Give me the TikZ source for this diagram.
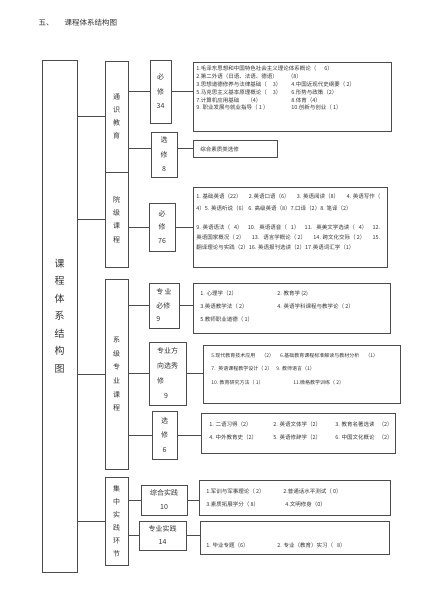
\documentclass[tikz,border=0pt]{standalone}
\usepackage{fontspec}
\setmainfont{Noto Sans CJK SC}

\begin{document}
\begin{tikzpicture}[x=1pt,y=-1pt,draw=black!70,line width=0.6pt]
      \tikzstyle{box}=[draw=black!70,rectangle,inner sep=0pt,text=black!80,align=center]
      \tikzstyle{group}=[box,minimum width=23pt,font=\fontsize{7}{13.3}\selectfont]
      \tikzstyle{course}=[box,font=\fontsize{7}{14.5}\selectfont]
      \tikzstyle{item}=[inner sep=0pt,anchor=north west,align=left,text=black!80,font=\fontsize{5.5}{7.8}\selectfont]

      \useasboundingbox (0,0) rectangle (425,601);

      % Title and root box
      \node[anchor=west,text=black!80,font=\fontsize{7.5}{9}\selectfont] (title) at (35,23) {五、\hspace{11pt}课程体系结构图};
      \node[box,minimum width=35pt,minimum height=512pt,font=\fontsize{10}{17.5}\selectfont] (root) at (59.5,316) {课\\程\\体\\系\\结\\构\\图};

      % Draw the course groups
      \node[group,minimum height=111pt] (tsjy) at (116.5,116.5) {通\\识\\教\\育};
      \node[group,minimum height=95pt] (yjkc) at (116.5,219.5) {院\\级\\课\\程};
      \node[group,minimum height=190pt,font=\fontsize{7}{13.6}\selectfont] (xjzy) at (116.5,374) {系\\级\\专\\业\\课\\程};
      \node[group,minimum height=88pt,font=\fontsize{7}{13}\selectfont] (jzsj) at (116.5,521) {集\\中\\实\\践\\环\\节};

      % Draw the course boxes
      \node[course,minimum width=21pt,minimum height=63pt] (tsbx) at (160.5,91.5) {必\\修\\34};
      \node[course,minimum width=26pt,minimum height=45pt] (tsxx) at (164,154.5) {选\\修\\8};
      \node[course,minimum width=26pt,minimum height=48pt,font=\fontsize{7}{13.5}\selectfont] (yjbx) at (162,227) {必\\修\\76};
      \node[course,minimum width=30pt,minimum height=45pt,align=left,font=\fontsize{7}{13.5}\selectfont] (zybx) at (164,305.5) {专\,业\\必修\\9};
      \node[course,minimum width=37pt,minimum height=63pt,align=left,font=\fontsize{7}{15}\selectfont] (zyfx) at (167.5,373.5) {专业方\\向选秀\\修\\\hspace*{7pt}9};
      \node[course,minimum width=25pt,minimum height=48pt] (zyxx) at (164.5,435) {选\\修\\6};
      \node[course,minimum width=46pt,minimum height=30pt,font=\fontsize{7}{14}\selectfont] (zhsj) at (164,500) {综合实践\\10};
      \node[course,minimum width=47pt,minimum height=29pt,font=\fontsize{7}{13}\selectfont] (zysj) at (162.5,535.5) {专业实践\\14};

      % Draw the list boxes
      \node[box,minimum width=198pt,minimum height=69pt] (tsbxc) at (292,96.5) {};
      \node[box,minimum width=84pt,minimum height=17pt] (tsxxc) at (235,148.5) {};
      \node[box,minimum width=194pt,minimum height=80pt] (yjbxc) at (290,227) {};
      \node[box,minimum width=197pt,minimum height=50pt] (zybxc) at (291.5,308) {};
      \node[box,minimum width=197pt,minimum height=58pt] (zyfxc) at (301.5,374) {};
      \node[box,minimum width=194pt,minimum height=40pt] (zyxxc) at (298,433) {};
      \node[box,minimum width=191pt,minimum height=35pt] (zhsjc) at (294.5,497.5) {};
      \node[box,minimum width=189pt,minimum height=33pt] (zysjc) at (294.5,537.5) {};

      % Fill the list boxes
      \node[item] (tsbxt) at (196,65.8) {1.毛泽东思想和中国特色社会主义理论体系概论（\hspace{8pt}6）\\
          2.第二外语（日语、法语、德语）\hspace{10pt}（8）\\
          \makebox[95pt][l]{3.思想道德修养与法律基础（\hspace{6pt}3）}4.中国近现代史纲要（ 2）\\
          \makebox[95pt][l]{5.马克思主义基本原理概论（\hspace{6pt}3）}6.形势与政策（2）\\
          \makebox[95pt][l]{7.计算机应用基础\hspace{8pt}（4）}8.体育（4）\\
          \makebox[95pt][l]{9. 职业发展与就业指导（ 1 ）}10.创新与创业（ 1）};
      \node[item] (tsxxt) at (200,146.2) {综合素质类选修};
      \node[item,font=\fontsize{5.5}{10}\selectfont] (yjbxt) at (196,193.2) {\makebox[184pt][s]{1. 基础英语（22）\hfill2.英语口语（6）\hfill3. 英语阅读（8）\hfill4. 英语写作（}\\[2pt]
          4）5. 英语听说（6） 6. 高级英语（8）7.口译（2）8. 笔译（2）\\[9pt]
          \makebox[184pt][s]{9. 英语语法（\hspace{4pt}4）\hfill10.\hspace{4pt}英语语音（\hspace{4pt}1）\hfill11.\hspace{4pt}英美文学选读（\hspace{4pt}4）\hfill12.}\\
          \makebox[184pt][s]{英语国家概况（ 2）\hfill13.\hspace{4pt}语言学概论（ 2）\hfill14. 跨文化交际（ 2）\hfill15.}\\
          翻译理论与实践（2）16. 英语报刊选读（2）17.英语词汇学（1）};
      \node[item,font=\fontsize{5.5}{13}\selectfont] (zybxt) at (200,290.2) {\makebox[77pt][l]{1. 心理学（2）}2. 教育学 (2)\\
          \makebox[77pt][l]{3.英语教学法（ 2）}4. 英语学科课程与教学论（ 2）\\
          5.教师职业道德（ 1）};
      \node[item,font=\fontsize{5}{13.5}\selectfont] (zyfxt) at (211,352.5) {5.现代教育技术应用\hspace{6pt}（2）\hspace{6pt}6.基础教育课程标准解读与教材分析\hspace{6pt}（1）\\
          7.\hspace{3pt}英语课程教学设计（ 2）\hspace{4pt}9. 教师语言（1）\\
          \makebox[82pt][l]{10. 教育研究方法（ 1）}11.微格教学训练（ 2）};
      \node[item,font=\fontsize{5.5}{13}\selectfont] (zyxxt) at (209,421.2) {\makebox[64pt][l]{1. 二语习得（2）}\makebox[62pt][l]{2. 英语文体学（2）}3. 教育名著选读\hspace{4pt}（2）\\
          \makebox[64pt][l]{4. 中外教育史（2）}\makebox[62pt][l]{5. 英语修辞学（2）}6. 中国文化概论\hspace{4pt}（2）};
      \node[item,font=\fontsize{5.5}{13}\selectfont] (zhsjt) at (206,488.2) {\makebox[77pt][l]{1.军训与军事理论（ 2）}2.普通话水平测试（ 0）\\
          \makebox[79pt][l]{3.素质拓展学分（ 8）}4.文明修身（0）};
      \node[item] (zysjt) at (206,542.2) {\makebox[71pt][l]{1. 毕业专题（6）}2. 专业（教育）实习（\hspace{4pt}8）};

      % Connect the root box with every course group
      \foreach \g in {tsjy,yjkc,xjzy,jzsj}
          \draw (root.east |- \g.west) -- (\g.west);

      % Connect every course group with its course boxes, and these with their lists
      \foreach \g/\s in {tsjy/tsbx,yjkc/yjbx,xjzy/zybx,xjzy/zyfx,xjzy/zyxx,jzsj/zhsj,jzsj/zysj}
          \draw (\g.east |- \s.west) -- (\s.west);
      \foreach \s/\c in {tsbx/tsbxc,yjbx/yjbxc,zybx/zybxc,zyfx/zyfxc,zyxx/zyxxc,zhsj/zhsjc,zysj/zysjc}
          \draw (\s.east) -- (\s.east -| \c.west);
      \draw (tsjy.east |- tsxxc.west) -- (tsxx.west |- tsxxc.west);
      \draw (tsxx.east |- tsxxc.west) -- (tsxxc.west);
  \end{tikzpicture}
\end{document}
